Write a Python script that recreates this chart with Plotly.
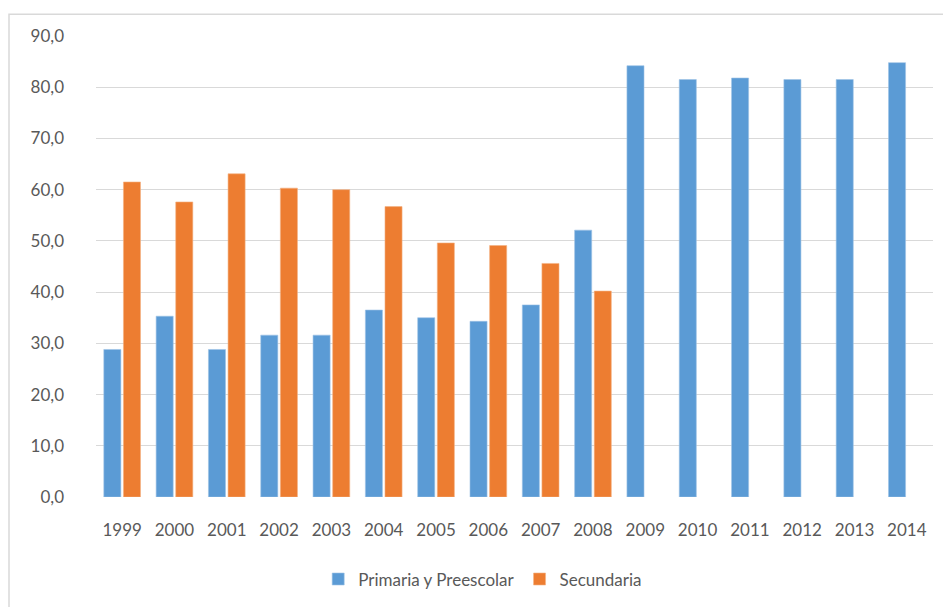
import plotly.graph_objects as go

years = ["1999", "2000", "2001", "2002", "2003", "2004", "2005", "2006",
         "2007", "2008", "2009", "2010", "2011", "2012", "2013", "2014"]
primaria = [28.8, 35.3, 28.8, 31.6, 31.6, 36.5, 35.0, 34.3,
            37.5, 52.1, 84.2, 81.5, 81.8, 81.5, 81.5, 84.8]
secundaria = [61.5, 57.6, 63.1, 60.3, 60.0, 56.7, 49.6, 49.1,
              45.6, 40.2, None, None, None, None, None, None]
y_ticks = [0, 10, 20, 30, 40, 50, 60, 70, 80, 90]

BLUE = "#5B9BD5"
ORANGE = "#ED7D31"
TXT = "#595959"
FONT = "Lato"
FS = 17

fig = go.Figure()
fig.add_trace(go.Bar(x=years, y=primaria, name="Primaria y Preescolar",
                     marker=dict(color=BLUE, line=dict(color="#9DC3E6", width=0.6))))
fig.add_trace(go.Bar(x=years, y=secundaria, name="Secundaria",
                     marker=dict(color=ORANGE, line=dict(color="#F4B183", width=0.6))))

W, H = 943, 607
L, R, T, B = 96, 10, 36, 107
pw = W - L - R
ph = H - T - B

fig.update_layout(
    width=W, height=H,
    margin=dict(l=L, r=R, t=T, b=B),
    paper_bgcolor="white", plot_bgcolor="white",
    barmode="group", bargap=0.25, bargroupgap=0.13,
    separators=", ",
    font=dict(family=FONT, size=FS, color=TXT),
    showlegend=True,
    legend=dict(orientation="h", x=0.462, xanchor="center", y=(T + ph - 583) / ph,
                yanchor="middle", font=dict(family=FONT, size=FS, color=TXT),
                itemwidth=30, traceorder="normal"),
    xaxis=dict(type="category", showgrid=False, showline=False, zeroline=False,
               ticks="", ticklabelstandoff=21,
               tickfont=dict(family=FONT, size=FS, color=TXT)),
    yaxis=dict(range=[0, 90], tickvals=y_ticks, tickformat=".1f",
               showgrid=True, gridcolor="#D9D9D9", gridwidth=1,
               zeroline=False, showline=False, ticks="", ticklabelstandoff=31,
               tickfont=dict(family=FONT, size=FS, color=TXT)),
)

# chart area border (extends beyond the visible window on right/bottom)
fig.add_shape(type="rect", xref="paper", yref="paper",
              x0=(9 - L) / pw, x1=(W + 5 - L) / pw,
              y0=-(H + 5 - (T + ph)) / ph, y1=1 + (T - 14) / ph,
              line=dict(color="#D9D9D9", width=1.5), fillcolor="rgba(0,0,0,0)",
              layer="below")

fig.write_html("out.html")
